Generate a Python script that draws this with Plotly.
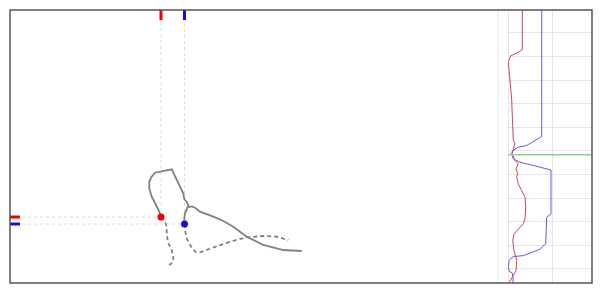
import plotly.graph_objects as go

# ---------- main panel (trajectories) ----------
X_RANGE = [0, 100]
Y_RANGE = [0, 55.94]

red_past_x = [30.94, 30.59, 29.92, 29.04, 28.54, 28.54, 29.04, 29.71, 33.14, 33.81, 34.84, 35.51, 35.72, 36.21, 36.54, 36.37]
red_past_y = [13.52, 14.61, 15.98, 17.68, 19.41, 20.76, 21.78, 22.60, 23.30, 21.78, 19.73, 18.38, 17.15, 16.66, 15.98, 15.47]

blue_past_x = [35.76, 35.72, 35.86, 36.21, 36.37, 37.23, 37.91, 38.93, 39.96, 41.66, 43.71, 45.76, 48.50, 51.91, 56.00, 59.77]
blue_past_y = [12.09, 13.26, 14.28, 14.96, 15.47, 15.68, 15.43, 14.61, 14.28, 13.59, 12.70, 11.54, 9.49, 7.79, 6.76, 6.56]

red_future_x = [30.94, 31.76, 32.11, 32.11, 32.44, 33.14, 33.46, 33.46, 32.93, 32.11]
red_future_y = [13.52, 12.56, 11.54, 9.84, 8.14, 6.76, 5.39, 4.36, 3.89, 3.34]

blue_future_x = [35.76, 35.86, 36.07, 36.89, 37.91, 38.93, 39.96, 41.66, 45.08, 48.50, 51.91, 54.65, 57.03]
blue_future_y = [12.09, 10.51, 9.49, 7.79, 6.41, 6.29, 6.66, 7.11, 8.46, 9.36, 9.63, 9.49, 8.81]

red_point = (30.94, 13.52)
blue_point = (35.76, 12.09)

# ---------- right panel (profiles over time) ----------
T_RANGE = [-0.6, 10.97]
V_RANGE = [0, 1.909]

red_prof_v = [0.325, 0.325, 0.198, 0.061, 0.007, 0.023, 0.061, 0.084, 0.098, 0.107, 0.120, 0.159, 0.136, 0.091,
              0.159, 0.234, 0.182, 0.220, 0.198, 0.234, 0.311, 0.386, 0.402, 0.386, 0.348, 0.234, 0.136, 0.107,
              0.136, 0.198, 0.182, 0.120, 0.061, 0.011]
red_prof_t = [11.0, 9.28, 9.14, 9.03, 8.78, 8.43, 7.87, 7.16, 6.45, 6.03, 5.47, 5.30, 5.16, 4.87,
              4.59, 4.45, 4.24, 4.03, 3.89, 3.60, 3.32, 3.04, 2.61, 2.12, 1.91, 1.69, 1.48, 1.20,
              0.78, 0.35, -0.07, -0.28, -0.50, -0.64]

blue_prof_v = [0.766, 0.766, 0.425, 0.227, 0.102, 0.084, 0.120, 0.273, 0.575, 0.802, 0.977, 0.977, 0.916, 0.880,
               0.857, 0.825, 0.727, 0.348, 0.120, 0.030, 0.007, 0.030, 0.098, 0.120, 0.098]
blue_prof_t = [11.0, 5.61, 5.23, 5.15, 5.00, 4.87, 4.66, 4.52, 4.38, 4.28, 4.19, 2.33, 2.26, 2.19,
               1.06, 1.02, 0.83, 0.56, 0.52, 0.38, 0.10, -0.11, -0.18, -0.47, -0.64]

current_t = 4.84

RED = "#ee0000"
BLUE = "#2a00e6"
GRAY = "#808080"
GUIDE = "#dcdcdc"

fig = go.Figure()

# guide lines (dotted) from edges to the points
for (px, py) in (red_point, blue_point):
    fig.add_trace(go.Scatter(x=[px, px], y=[py, Y_RANGE[1]], mode="lines",
                             line=dict(color=GUIDE, width=1, dash="dot"),
                             xaxis="x", yaxis="y", hoverinfo="skip", showlegend=False))
    fig.add_trace(go.Scatter(x=[X_RANGE[0], px], y=[py, py], mode="lines",
                             line=dict(color=GUIDE, width=1, dash="dot"),
                             xaxis="x", yaxis="y", hoverinfo="skip", showlegend=False))

# trajectories
fig.add_trace(go.Scatter(x=red_future_x, y=red_future_y, mode="lines",
                         line=dict(color=GRAY, width=1.8, dash="4px,3px"), showlegend=False))
fig.add_trace(go.Scatter(x=blue_future_x, y=blue_future_y, mode="lines",
                         line=dict(color=GRAY, width=1.8, dash="4px,3px"), showlegend=False))
fig.add_trace(go.Scatter(x=red_past_x, y=red_past_y, mode="lines",
                         line=dict(color=GRAY, width=1.8), showlegend=False))
fig.add_trace(go.Scatter(x=blue_past_x, y=blue_past_y, mode="lines",
                         line=dict(color=GRAY, width=1.8), showlegend=False))

# current points
fig.add_trace(go.Scatter(x=[red_point[0]], y=[red_point[1]], mode="markers",
                         marker=dict(color=RED, size=7), showlegend=False))
fig.add_trace(go.Scatter(x=[blue_point[0]], y=[blue_point[1]], mode="markers",
                         marker=dict(color=BLUE, size=7), showlegend=False))

# right panel profiles
fig.add_trace(go.Scatter(x=red_prof_v, y=red_prof_t, mode="lines", xaxis="x2", yaxis="y2",
                         line=dict(color="#c4485e", width=1), showlegend=False))
fig.add_trace(go.Scatter(x=blue_prof_v, y=blue_prof_t, mode="lines", xaxis="x2", yaxis="y2",
                         line=dict(color="#7b52d6", width=1), showlegend=False))
fig.add_trace(go.Scatter(x=V_RANGE, y=[current_t, current_t], mode="lines", xaxis="x2", yaxis="y2",
                         line=dict(color="#8fd08f", width=1.5), showlegend=False))

shapes = []
# edge ticks for the points
for (px, py), col in ((red_point, RED), (blue_point, BLUE)):
    shapes.append(dict(type="line", xref="x", yref="paper", ysizemode="pixel", yanchor=1,
                       x0=px, x1=px, y0=0, y1=-10, line=dict(color=col, width=3)))
    shapes.append(dict(type="line", xref="paper", yref="y", xsizemode="pixel", xanchor=0,
                       x0=0, x1=10, y0=py, y1=py, line=dict(color=col, width=3)))

MAIN_END = 0.8385
RIGHT_START = 0.8557
shapes.append(dict(type="line", xref="paper", yref="paper", x0=MAIN_END, x1=MAIN_END, y0=0, y1=1,
                   line=dict(color="#e6e6e6", width=1), layer="below"))
# frame
shapes.append(dict(type="rect", xref="paper", yref="paper", x0=0, x1=1, y0=0, y1=1,
                   line=dict(color="#555555", width=1.5)))

fig.update_layout(
    width=600, height=289,
    margin=dict(l=10, r=8, t=10, b=6),
    paper_bgcolor="white", plot_bgcolor="white",
    xaxis=dict(domain=[0, MAIN_END], range=X_RANGE, showgrid=False, zeroline=False,
               showticklabels=False, ticks=""),
    yaxis=dict(domain=[0, 1], range=Y_RANGE, showgrid=False, zeroline=False,
               showticklabels=False, ticks=""),
    xaxis2=dict(domain=[RIGHT_START, 1], range=V_RANGE, anchor="y2", showgrid=True, dtick=1, tick0=0,
                gridcolor="#e6e6e6", gridwidth=1, zeroline=True, zerolinecolor="#e6e6e6",
                zerolinewidth=1, showticklabels=False, ticks=""),
    yaxis2=dict(domain=[0, 1], range=T_RANGE, anchor="x2", showgrid=True, dtick=1, tick0=0,
                gridcolor="#e6e6e6", gridwidth=1, zeroline=False, showticklabels=False, ticks=""),
    shapes=shapes,
    showlegend=False,
)

fig.write_html("out.html")
